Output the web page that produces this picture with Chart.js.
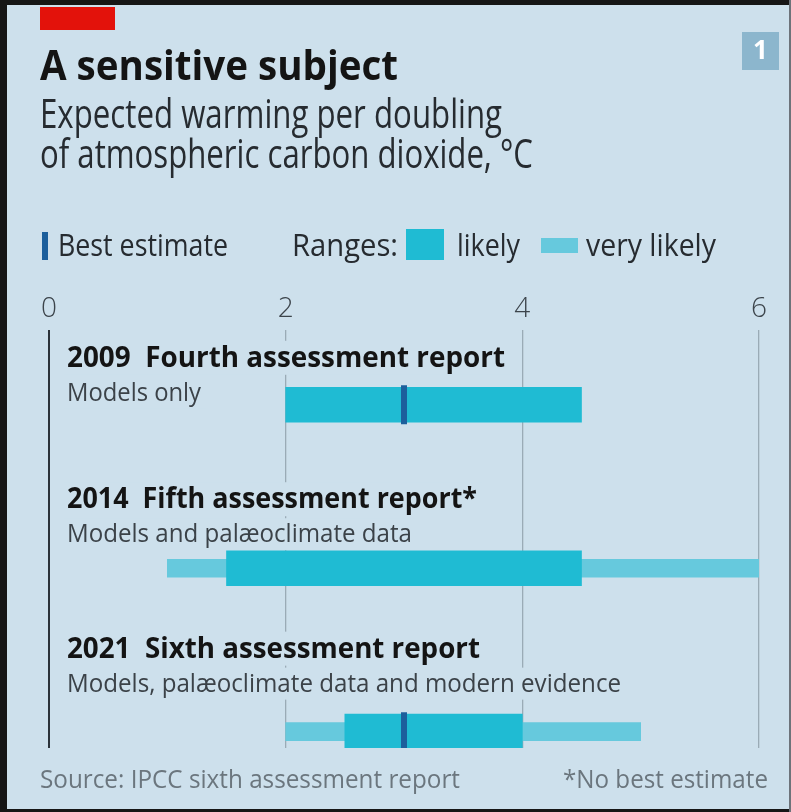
<!DOCTYPE html>
<html>
<head>
<meta charset="utf-8">
<script src="https://cdn.jsdelivr.net/npm/chart.js@4.4.1/dist/chart.umd.min.js"></script>
<style>
    html, body { margin: 0; padding: 0; background: #cde0ec; }
    canvas { display: block; }
</style>
</head>
<body>
<canvas id="chartSensitivity" width="791" height="812" style="width:791px;height:812px"></canvas>
<script>
// Data
const reports = ['2009', '2014', '2021'];
const reportTitles = ['2009  Fourth assessment report', '2014  Fifth assessment report*', '2021  Sixth assessment report'];
const reportNotes = ['Models only', 'Models and palæoclimate data', 'Models, palæoclimate data and modern evidence'];
const likelyRange = [[2, 4.5], [1.5, 4.5], [2.5, 4]];
const veryLikelyRange = [null, [1, 6], [2, 5]];
const bestEstimate = [3, null, 3];
const xTicks = [0, 2, 4, 6];

// Theme
const colors = {
    bg: '#cde0ec',
    red: '#e3120b',
    likely: '#1fbbd3',
    veryLikely: '#66c9dd',
    best: '#1c5f9c',
    grid: '#9aabb6',
    axis: '#2b333a',
    ink: '#141414',
    sub: '#262b30',
    note: '#3b4248',
    source: '#6b767e',
    tab: '#8cb6cd'
};
const FONT = '"Open Sans", "Noto Sans", sans-serif';

// Row label layout (relative to each bar centre)
const titleShift = [-38, -60, -74];
const noteGap = 34;
const titleWidths = [438, 410, 413];
const noteWidths = [134, 345, 554];

function fitText(ctx, text, x, y, w, font, color, align) {
    ctx.save();
    ctx.font = font;
    ctx.fillStyle = color;
    ctx.textAlign = 'left';
    ctx.textBaseline = 'alphabetic';
    const m = ctx.measureText(text).width;
    ctx.translate(align === 'right' ? x - w : x, y);
    ctx.scale(w / m, 1);
    ctx.fillText(text, 0, 0);
    ctx.restore();
}

const toRows = arr => arr.map((v, i) => v === null ? null : { x: v, y: i }).filter(Boolean);

const decorations = {
    id: 'decorations',
    beforeDraw(chart) {
        const ctx = chart.ctx;
        ctx.save();
        ctx.fillStyle = colors.bg;
        ctx.fillRect(0, 0, chart.width, chart.height);

        // red tag + title block
        ctx.fillStyle = colors.red;
        ctx.fillRect(40, 7, 75, 23);
        fitText(ctx, 'A sensitive subject', 40, 80, 358, 'bold 41px ' + FONT, colors.ink);
        fitText(ctx, 'Expected warming per doubling', 40, 128, 462, '40px ' + FONT, colors.sub);
        fitText(ctx, 'of atmospheric carbon dioxide, °C', 40, 168, 493, '40px ' + FONT, colors.sub);

        // chart number tab
        ctx.fillStyle = colors.tab;
        ctx.fillRect(742, 32, 37, 38);
        ctx.fillStyle = '#ffffff';
        ctx.font = 'bold 26px ' + FONT;
        ctx.textAlign = 'center';
        ctx.textBaseline = 'middle';
        ctx.fillText('1', 760.5, 52);

        // legend
        ctx.fillStyle = colors.best;
        ctx.fillRect(42, 232, 6, 28);
        fitText(ctx, 'Best estimate', 58, 256, 170, '31px ' + FONT, colors.sub);
        fitText(ctx, 'Ranges:', 292, 256, 106, '31px ' + FONT, colors.sub);
        ctx.fillStyle = colors.likely;
        ctx.fillRect(406, 229, 38, 31);
        fitText(ctx, 'likely', 457, 256, 63, '31px ' + FONT, colors.sub);
        ctx.fillStyle = colors.veryLikely;
        ctx.fillRect(541, 238, 37, 15);
        fitText(ctx, 'very likely', 586, 256, 130, '31px ' + FONT, colors.sub);

        // footer
        fitText(ctx, 'Source: IPCC sixth assessment report', 40, 788, 420, '25px ' + FONT, colors.source);
        fitText(ctx, '*No best estimate', 768, 788, 205, '25px ' + FONT, colors.source, 'right');
        ctx.restore();
    },
    beforeDatasetsDraw(chart) {
        // row headings sit on background boxes that hide the grid
        const ctx = chart.ctx;
        const yScale = chart.scales.y;
        reports.forEach((r, i) => {
            const base = yScale.getPixelForValue(i) + titleShift[i];
            ctx.save();
            ctx.fillStyle = colors.bg;
            ctx.fillRect(64, base - 26, titleWidths[i] + 8, 34);
            ctx.fillRect(64, base + noteGap - 24, noteWidths[i] + 8, 32);
            ctx.restore();
            fitText(ctx, reportTitles[i], 67, base, titleWidths[i], 'bold 29px ' + FONT, colors.ink);
            fitText(ctx, reportNotes[i], 67, base + noteGap, noteWidths[i], '25px ' + FONT, colors.note);
        });
    },
    afterDraw(chart) {
        const ctx = chart.ctx;
        ctx.save();
        ctx.fillStyle = '#161616';
        ctx.fillRect(0, 0, chart.width, 5);
        ctx.fillRect(0, 0, 7, chart.height);
        ctx.fillRect(0, chart.height - 3, chart.width, 3);
        ctx.fillStyle = '#6d737a';
        ctx.fillRect(chart.width - 2, 0, 2, chart.height);
        ctx.restore();
    }
};

const ctxMain = document.getElementById('chartSensitivity').getContext('2d');
const chart = new Chart(ctxMain, {
    type: 'bar',
    data: {
        datasets: [
            {
                type: 'scatter',
                label: 'Best estimate',
                data: toRows(bestEstimate),
                pointStyle: 'line',
                pointRotation: 90,
                pointRadius: 19.5,
                pointBorderWidth: 6,
                pointBorderColor: colors.best,
                borderColor: colors.best,
                order: 0
            },
            {
                label: 'likely',
                data: toRows(likelyRange),
                stack: 'range',
                backgroundColor: colors.likely,
                barThickness: 35,
                order: 1
            },
            {
                label: 'very likely',
                data: toRows(veryLikelyRange),
                stack: 'range',
                backgroundColor: colors.veryLikely,
                barThickness: 18,
                order: 2
            }
        ]
    },
    options: {
        indexAxis: 'y',
        responsive: false,
        animation: false,
        events: [],
        layout: { padding: { left: 49, right: 32, top: 288, bottom: 64 } },
        plugins: {
            legend: { display: false },
            tooltip: { enabled: false }
        },
        scales: {
            x: {
                type: 'linear',
                position: 'top',
                stacked: false,
                min: 0,
                max: 6,
                afterBuildTicks: s => { s.ticks = xTicks.map(v => ({ value: v })); },
                border: { display: false },
                grid: {
                    drawTicks: false,
                    color: c => c.tick && c.tick.value === 0 ? colors.axis : colors.grid,
                    lineWidth: c => c.tick && c.tick.value === 0 ? 2 : 1.3
                },
                ticks: {
                    padding: 4,
                    color: '#3c444b',
                    font: { family: FONT, size: 28, weight: '300' }
                }
            },
            y: {
                type: 'linear',
                display: false,
                reverse: true,
                offset: false,
                min: -0.46,
                max: 2.1
            }
        }
    },
    plugins: [decorations]
});
</script>
</body>
</html>
